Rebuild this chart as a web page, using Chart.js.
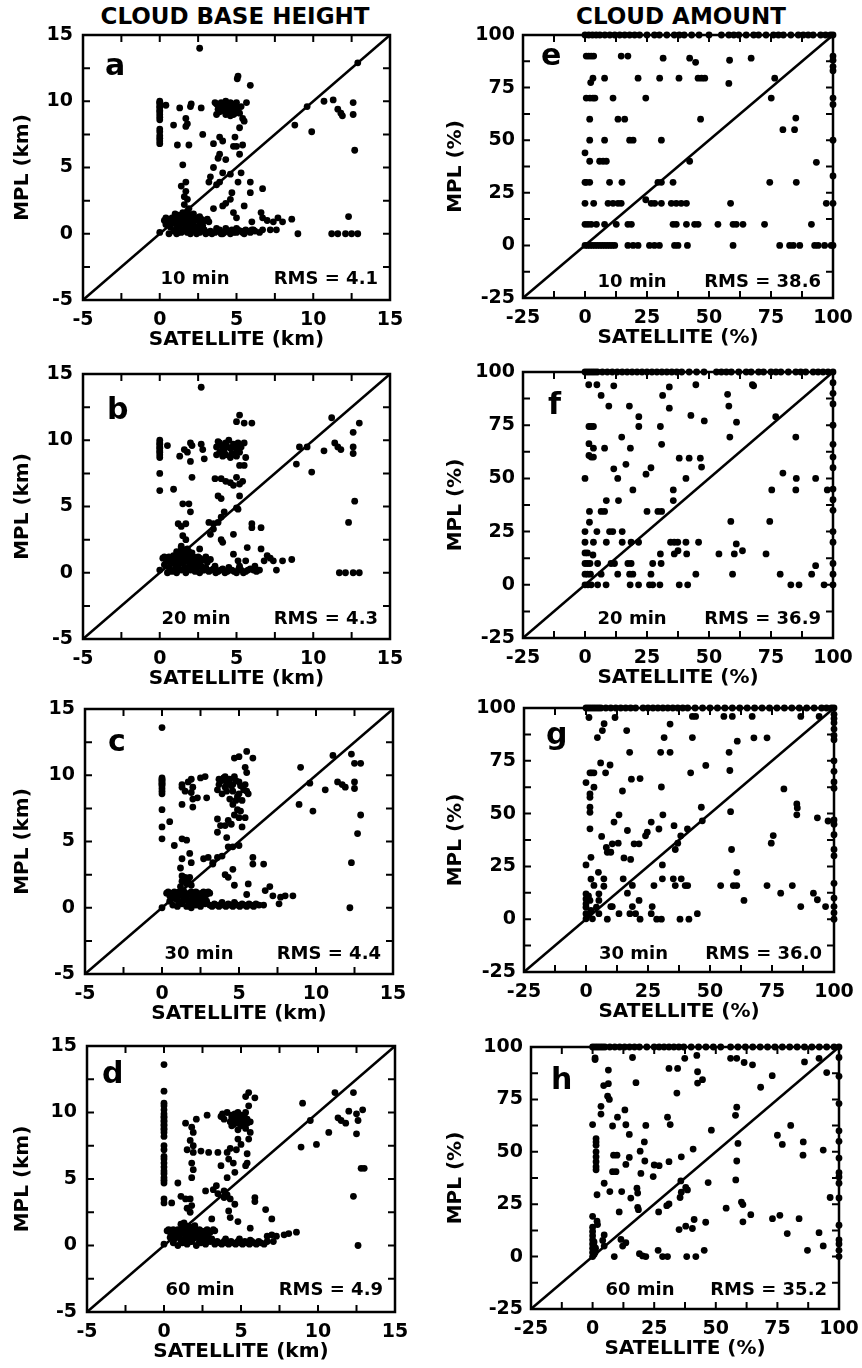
<!DOCTYPE html>
<html>
<head>
<meta charset="utf-8">
<script src="https://cdn.jsdelivr.net/npm/chart.js@4.4.1/dist/chart.umd.min.js"></script>
<style>
  body { margin: 0; background: #fff; width: 862px; height: 1368px; position: relative; overflow: hidden; }
  canvas { position: absolute; }
  .head { position: absolute; top: 5px; font: bold 23px "DejaVu Sans"; color: #000; transform: translateX(-50%); white-space: nowrap; line-height: 23px; }
</style>
</head>
<body>
<div class="head" style="left:235px">CLOUD BASE HEIGHT</div>
<div class="head" style="left:681px">CLOUD AMOUNT</div>
<script>
// axis ticks
const kmTicks = [-5, 0, 5, 10, 15];
const pctTicks = [-25, 0, 25, 50, 75, 100];

// satellite vs MPL cloud base height (km), [sat, mpl]
const ptsA = [
  [0,10.0],[0,9.9],[0,9.8],[0,9.6],[0,9.5],[0,9.3],[0,9.2],[0,9.0],[0,8.8],[0,8.6],[0,7.9],[0,7.7],[0,7.4],[0,7.2],[0,7.0],[0,6.8],
  [0.4,9.7],[1.3,9.5],[2.0,9.6],[2.05,9.8],[2.7,9.5],[0.9,8.2],[1.7,8.7],[1.8,8.3],[1.7,8.1],[1.15,6.7],[1.9,6.7],[2.8,7.5],
  [2.6,14.0],[5.1,11.9],[5.05,11.7],[5.9,11.2],[12.9,12.9],
  [3.6,9.9],[3.8,9.4],[3.9,9.6],[4.1,9.7],[4.3,10.0],[4.6,9.9],[4.8,9.6],[5.0,9.5],[5.2,9.1],[5.4,8.7],[5.5,8.5],[5.65,9.9],
  [3.7,9.0],[4.6,8.9],[4.8,9.0],[3.9,9.2],[5.1,9.2],[4.1,9.3],[4.4,9.5],[4.9,9.8],
  [3.7,9.8],[4.0,9.9],[4.2,9.6],[4.5,9.7],[4.7,9.4],[5.0,9.9],[4.5,9.2],[4.3,9.0],[4.9,9.1],[5.3,9.6],
  [5.2,8.0],[3.9,7.3],[4.9,7.3],[4.8,6.6],[5.0,6.6],[3.5,6.8],[4.1,7.0],[5.4,6.7],[5.2,6.0],[3.9,6.0],[3.8,5.7],[4.3,5.6],
  [1.5,5.2],
  [3.5,5.0],[3.3,4.3],[3.2,3.9],[3.7,3.7],[3.9,3.9],[4.1,4.6],[4.6,4.5],[5.3,4.6],[5.1,3.9],[5.9,3.9],[5.9,3.1],[4.7,3.1],
  [4.6,2.6],[4.3,2.3],[4.1,2.1],[3.5,1.9],[4.8,1.6],[5.0,1.2],[5.5,2.1],[6.7,3.4],
  [1.4,3.6],[1.7,3.9],[1.7,3.2],[1.6,2.8],[1.8,2.6],[1.6,2.2],
  [0.0,0.1],[0.3,1.0],[0.5,1.1],[0.7,0.9],[0.9,1.1],[1.1,1.0],[1.3,1.2],[1.5,1.0],[1.7,1.3],[1.9,1.1],[2.1,1.0],[2.3,1.2],[2.5,1.0],[2.7,1.1],[3.0,1.0],[3.2,0.9],
  [0.4,1.2],[0.6,1.0],[0.8,1.2],[1.0,1.0],[1.2,1.1],[1.4,1.3],[1.6,1.1],[1.8,0.9],[2.0,1.2],[2.2,1.0],[2.4,1.1],[2.6,1.3],[2.8,0.9],[3.1,1.1],
  [1.0,1.5],[1.5,1.6],[1.8,1.7],[2.0,1.4],[1.2,1.4],[1.6,1.4],[2.2,1.5],[1.9,1.9],
  [0.4,0.7],[0.7,0.5],[1.0,0.8],[1.3,0.6],[1.6,0.8],[1.9,0.5],[2.2,0.7],[2.5,0.4],[2.8,0.6],
  [1.1,0.4],[1.4,0.8],[1.7,0.6],[2.0,0.9],[2.3,0.5],[2.6,0.7],[2.9,0.3],
  [0.6,0.0],[0.9,0.2],[1.2,0.1],[1.5,0.3],[1.8,0.1],[2.1,0.2],[2.4,0.0],[2.7,0.2],[3.0,0.0],
  [1.1,0.0],[1.4,0.1],[1.7,0.2],[2.0,0.0],[2.3,0.2],[2.6,0.1],[2.9,0.2],[3.1,0.1],[3.4,0.0],[3.8,0.2],[4.1,0.0],[4.4,0.2],
  [4.7,0.3],[5.0,0.1],[5.3,0.2],[5.6,0.3],[5.9,0.1],[6.2,0.2],[6.5,0.1],
  [3.3,0.2],[3.6,0.1],[3.9,0.3],[4.2,0.1],[4.5,0.2],[4.8,0.1],[5.1,0.3],[5.4,0.1],[5.7,0.2],[6.0,0.3],[3.7,0.4],[4.3,0.4],[5.0,0.4],[4.0,0.0],[4.6,0.0],[5.5,0.0],
  [6.0,0.9],[6.7,1.2],[6.6,1.6],[7.0,1.0],[7.4,0.9],[7.6,0.3],[7.7,1.2],[8.0,0.9],[8.6,1.1],[9.0,0.0],[6.7,0.3],[6.1,0.3],[7.2,0.3],
  [12.3,1.3],[11.2,0],[11.6,0],[12.1,0],[12.5,0],[12.9,0],
  [8.8,8.2],[9.6,9.6],[9.9,7.7],[10.7,10.0],[11.3,10.1],[11.6,9.4],[11.8,9.1],[11.9,8.9],[12.6,9.9],[12.6,9.0],[12.7,6.3]
];

const ptsB = [
  [2.7,14.0],[5.2,11.9],[5.0,11.4],[5.5,11.3],[6.0,11.3],
  [0,10.0],[0,9.8],[0,9.7],[0,9.5],[0,9.4],[0,9.2],[0,9.1],[0,8.9],[0,8.7],[0,7.5],[0,6.2],
  [0.5,9.6],[0.9,6.3],[1.3,8.8],[1.6,9.3],[1.8,9.1],[2.0,9.8],[2.1,9.6],[2.0,8.4],[2.7,9.7],[2.8,9.3],[2.9,8.6],[2.1,7.2],
  [3.7,9.5],[3.9,9.8],[4.1,9.3],[4.3,9.8],[4.6,9.4],[4.8,9.7],[5.0,9.3],[5.2,9.1],[5.5,9.8],[5.6,8.7],
  [3.7,8.9],[4.1,8.8],[4.6,8.7],[4.9,8.9],[5.1,9.8],[3.9,9.1],[4.7,9.0],[4.3,8.9],
  [3.8,9.9],[4.0,9.6],[4.4,9.5],[4.5,10.0],[4.9,9.5],[5.3,9.5],[4.2,9.1],[5.0,8.8],
  [5.2,8.1],[5.5,8.1],[4.0,7.1],[4.3,6.9],[4.6,6.8],[4.8,6.6],[5.0,7.2],[5.2,6.7],[5.4,6.9],[3.6,7.1],[3.8,5.8],[4.0,5.6],[5.2,5.8],[5.1,4.8],[5.0,4.9],
  [1.5,5.2],[1.9,5.2],[2.0,4.6],
  [3.2,3.8],[3.5,3.7],[3.8,3.8],[4.0,4.2],[4.2,4.6],[3.3,2.9],[3.5,3.3],[4.0,2.5],[4.1,2.3],[4.8,2.9],[4.8,1.4],[5.1,0.9],[5.7,1.9],[5.6,0.9],[6.0,3.7],[6.0,3.4],[6.6,3.4],
  [1.2,3.7],[1.4,3.5],[1.7,3.7],[1.5,2.8],[1.7,2.5],[1.4,2.0],[1.8,1.8],[2.6,1.8],
  [0,0.2],[0.2,1.1],[0.4,1.0],[0.6,1.2],[0.8,0.9],[1.0,1.1],[1.2,1.3],[1.4,1.0],[1.6,1.2],[1.8,1.4],[2.0,1.0],[2.2,1.2],[2.4,0.9],[2.6,1.1],[2.9,1.0],[3.1,0.8],
  [0.3,1.2],[0.5,0.9],[0.7,1.1],[0.9,1.3],[1.1,0.9],[1.3,1.1],[1.5,1.3],[1.7,0.9],[1.9,1.1],[2.1,1.3],[2.3,1.0],[2.5,1.2],[2.7,0.9],[3.0,1.2],[3.3,1.0],
  [1.1,1.6],[1.4,1.9],[1.7,1.7],[2.1,1.5],[1.3,1.5],[1.6,1.5],[1.9,1.6],
  [0.3,0.6],[0.6,0.4],[0.9,0.7],[1.2,0.5],[1.5,0.7],[1.8,0.4],[2.1,0.6],[2.4,0.3],[2.7,0.5],[3.0,0.4],
  [1.0,0.3],[1.3,0.8],[1.6,0.3],[1.9,0.8],[2.2,0.4],[2.5,0.7],[2.8,0.2],
  [0.5,0.0],[0.8,0.1],[1.1,0.0],[1.4,0.2],[1.7,0.0],[2.0,0.2],[2.3,0.1],[2.6,0.0],[2.9,0.2],
  [3.2,0.1],[3.5,0.3],[3.8,0.1],[4.1,0.3],[4.4,0.1],[4.7,0.2],[5.0,0.0],[5.3,0.2],[5.6,0.1],[5.9,0.3],[6.1,0.2],[3.6,0.5],[4.5,0.4],[5.2,0.5],
  [3.35,0.2],[3.65,0.0],[3.95,0.2],[4.25,0.0],[4.55,0.2],[4.85,0.1],[5.15,0.3],[5.45,0.0],[5.75,0.2],[6.3,0.1],[6.5,0.2],
  [6.6,1.8],[7.0,1.3],[7.2,1.1],[7.4,0.9],[7.6,0.2],[8.0,0.9],[8.6,1.0],[6.8,0.9],[6.2,0.5],
  [11.7,0],[12.1,0],[12.6,0],[13.0,0],[12.3,3.8],[12.7,5.4],
  [8.9,8.2],[9.1,9.5],[9.6,9.5],[9.9,7.6],[10.7,9.2],[11.2,11.7],[11.4,9.8],[11.6,9.5],[11.8,9.3],[12.6,10.6],[12.6,9.5],[12.6,9.0],[13.0,11.3]
];

const ptsC = [
  [0,13.6],
  [0,9.8],[0,9.7],[0,9.6],[0,9.5],[0,9.4],[0,9.3],[0,9.2],[0,9.0],[0,8.8],[0,8.6],[0,7.4],[0,6.1],[0,5.2],[0.5,6.5],[0.8,4.7],
  [1.3,9.3],[1.3,9.1],[1.5,8.8],[1.7,9.5],[1.9,9.7],[2.0,9.1],[1.9,8.7],[2.0,8.2],[2.0,7.6],[1.3,7.8],[2.3,8.3],[2.5,9.8],[2.8,9.9],[2.9,8.3],
  [3.7,9.7],[3.9,9.6],[4.1,9.9],[4.4,9.7],[4.6,9.3],[4.8,9.6],[5.0,9.5],[5.4,9.3],[3.6,8.9],[3.9,8.6],[4.2,8.8],[4.6,8.8],[5.0,8.6],[5.5,8.8],
  [4.4,8.2],[4.6,7.8],[4.8,8.1],[5.2,8.1],[5.6,8.6],[4.2,9.3],[4.5,9.2],[3.7,9.3],
  [4.0,9.8],[4.3,9.5],[4.7,9.9],[5.1,9.2],[4.9,8.4],[5.3,8.9],[4.1,9.1],
  [4.7,11.3],[5.0,11.4],[5.5,11.8],[5.9,11.3],[5.4,10.6],[5.5,10.2],
  [3.6,6.7],[3.8,6.2],[3.6,5.7],[4.1,6.2],[4.3,6.6],[4.5,6.3],[4.7,7.0],[5.0,6.8],[5.1,7.3],[4.9,7.4],[5.4,6.8],[5.2,6.1],[4.2,5.3],[4.6,4.6],[5.0,4.7],[4.3,4.6],
  [1.3,5.2],[1.6,5.1],[1.8,4.1],[1.9,3.4],[1.3,3.7],[1.2,3.0],[1.3,2.0],[1.5,2.2],
  [2.7,3.7],[3.0,3.8],[3.3,3.4],[3.6,3.8],[3.9,3.9],[3.3,3.3],[4.1,2.5],[4.3,2.3],[4.6,2.9],[4.7,1.7],[5.6,1.8],[5.5,1.0],[5.9,3.8],[5.9,3.3],[6.6,3.3],
  [0,0.0],[0.3,1.1],[0.5,0.9],[0.7,1.1],[0.9,1.0],[1.1,1.2],[1.3,0.9],[1.5,1.1],[1.7,1.0],[1.9,1.2],[2.1,0.9],[2.3,1.1],[2.5,1.0],[2.7,1.2],[2.9,1.0],[3.1,1.1],
  [0.4,1.2],[0.6,1.0],[0.8,1.2],[1.0,0.9],[1.2,1.0],[1.4,1.3],[1.6,0.9],[1.8,1.1],[2.0,1.0],[2.2,1.2],[2.4,0.9],[2.6,1.1],[2.8,1.0],[3.0,1.2],
  [1.2,1.6],[1.4,2.0],[1.5,2.3],[1.7,2.1],[1.9,1.7],[1.3,2.4],[1.6,1.8],[1.8,2.3],
  [0.5,0.5],[0.8,0.7],[1.1,0.4],[1.4,0.6],[1.7,0.5],[2.0,0.7],[2.3,0.4],[2.6,0.6],[2.9,0.5],
  [1.0,0.6],[1.3,0.4],[1.6,0.7],[1.9,0.4],[2.2,0.6],[2.5,0.3],[2.8,0.6],
  [0.7,0.2],[1.0,0.1],[1.3,0.3],[1.6,0.1],[1.9,0.0],[2.2,0.2],[2.5,0.1],[2.8,0.3],
  [3.1,0.2],[3.4,0.3],[3.7,0.1],[4.0,0.2],[4.3,0.3],[4.6,0.1],[4.9,0.2],[5.2,0.3],[5.5,0.1],[5.8,0.2],[6.1,0.3],[3.9,0.4],[4.7,0.4],
  [3.25,0.1],[3.55,0.2],[3.85,0.3],[4.15,0.1],[4.45,0.2],[4.75,0.3],[5.05,0.1],[5.35,0.2],[5.65,0.3],[5.95,0.1],[6.3,0.2],
  [7.0,1.6],[6.7,1.3],[7.2,0.9],[7.7,0.8],[8.0,0.9],[8.5,0.9],[7.6,0.3],[6.6,0.2],
  [12.2,0.0],[12.3,3.4],[12.7,5.6],[12.9,7.0],
  [9.0,10.6],[8.9,7.8],[9.6,9.4],[9.8,7.3],[10.6,8.9],[11.1,11.5],[11.4,9.5],[11.7,9.3],[11.9,9.1],[12.3,11.6],[12.5,10.9],[12.9,10.9],[12.5,9.5],[12.5,9.0]
];

const ptsD = [
  [0,13.6],[0,11.6],[0,10.7],[0,10.5],[0,10.2],[0,9.9],[0,9.7],[0,9.6],[0,9.4],[0,9.3],[0,9.1],[0,9.0],[0,8.8],[0,8.7],[0,8.5],[0,8.2],
  [0,7.5],[0,7.2],[0,6.7],[0,6.5],[0,6.2],[0,5.9],[0,5.6],[0,5.4],[0,5.1],[0,4.9],[0,4.7],[0,3.5],[0,3.2],
  [0.5,3.2],[0.9,4.7],[1.8,5.1],[1.4,9.2],[2.1,9.5],[2.8,9.8],[1.8,8.9],[1.9,8.5],[1.7,7.9],[1.9,7.5],[1.5,7.2],[1.9,7.0],[2.4,7.1],[2.9,7.0],[3.5,7.0],[1.9,5.7],[1.8,6.2],
  [3.8,9.9],[4.1,10.0],[4.4,9.8],[4.6,9.5],[4.8,10.0],[5.0,9.8],[5.4,9.5],[5.6,9.3],[3.9,9.5],[4.3,9.3],[4.5,9.1],[4.9,9.2],[5.2,9.1],[3.7,9.7],[4.7,9.2],[5.1,9.5],[5.3,10.0],
  [4.4,9.6],[4.6,9.9],[4.9,9.6],[5.2,9.8],[4.7,9.4],[5.0,9.0],[5.4,9.2],[4.8,8.7],[5.3,8.8],[4.4,9.0],
  [5.3,11.2],[5.5,10.5],[5.5,11.5],[5.9,11.1],[5.6,8.5],[5.5,8.0],[4.8,8.0],[5.0,7.6],[4.7,7.2],[4.3,7.3],[4.1,7.0],[4.2,6.5],[4.5,6.2],[5.4,6.9],[5.4,6.2],[5.3,6.0],[3.7,6.0],[4.6,5.5],[4.1,5.1],
  [1.1,3.7],[1.4,3.5],[1.5,2.8],[1.7,2.5],[1.7,3.5],[1.8,3.0],[2.7,4.1],[3.2,4.2],[3.4,4.5],[3.5,3.9],[3.9,4.1],[3.9,3.6],[4.1,3.8],[4.3,3.5],[4.6,3.1],
  [3.1,2.0],[4.2,2.6],[4.3,2.1],[4.8,1.8],[5.6,1.3],[5.9,3.6],[5.9,3.3],[6.6,2.7],[7.0,2.0],
  [0,0.1],[0.2,1.1],[0.4,1.0],[0.6,1.2],[0.8,1.0],[1.0,1.1],[1.2,1.3],[1.4,1.0],[1.6,1.2],[1.8,1.0],[2.0,1.1],[2.2,0.9],[2.4,1.1],[2.6,1.0],[2.8,1.2],[3.0,1.0],[3.3,1.1],
  [0.3,1.2],[0.5,0.9],[0.7,1.1],[0.9,1.2],[1.1,0.9],[1.3,1.1],[1.5,1.2],[1.7,0.9],[1.9,1.2],[2.1,1.0],[2.3,1.2],[2.5,0.9],[2.7,1.1],[2.9,0.9],[3.2,1.2],
  [1.1,1.6],[1.4,1.5],[1.7,1.4],[1.3,1.7],[2.0,1.5],
  [0.4,0.6],[0.7,0.5],[1.0,0.7],[1.3,0.4],[1.6,0.6],[1.9,0.5],[2.2,0.7],[2.5,0.4],[2.8,0.6],[3.1,0.5],
  [1.1,0.4],[1.4,0.7],[1.7,0.3],[2.0,0.6],[2.3,0.3],[2.6,0.7],[2.9,0.4],
  [0.6,0.2],[0.9,0.0],[1.2,0.2],[1.5,0.1],[1.8,0.3],[2.1,0.0],[2.4,0.2],[2.7,0.1],[3.0,0.3],
  [3.3,0.1],[3.6,0.2],[3.9,0.3],[4.2,0.1],[4.5,0.2],[4.8,0.3],[5.1,0.1],[5.4,0.2],[5.7,0.3],[6.0,0.1],[6.3,0.2],[4.0,0.5],[4.9,0.5],[5.6,0.4],
  [3.45,0.3],[3.75,0.1],[4.05,0.2],[4.35,0.3],[4.65,0.1],[4.95,0.2],[5.25,0.3],[5.55,0.1],[5.85,0.2],[6.15,0.3],[6.5,0.1],
  [6.7,0.7],[7.0,0.8],[7.3,0.7],[7.8,0.8],[8.1,0.9],[8.6,1.0],[7.1,0.3],[6.7,0.3],
  [12.6,0.0],[12.3,3.7],[12.8,5.8],[13.0,5.8],
  [9.0,10.7],[8.9,7.4],[9.5,9.4],[9.9,7.6],[10.7,8.5],[11.1,11.5],[11.3,9.6],[11.5,9.4],[11.8,9.2],[12.0,10.1],[12.3,11.5],[12.5,9.9],[12.6,9.4],[12.9,10.2],[12.5,8.4]
];

// satellite vs MPL cloud amount (%), [sat, mpl]
const ptsE = [
  [0,100],[1.5,100],[3,100],[4.5,100],[6,100],[8,100],[10,100],[12,100],[14,100],[16,100],[18,100],[20,100],[22,100],[25,100],[28,100],[30,100],
  [33,100],[36,100],[38,100],[40,100],[43,100],[46,100],[50,100],[55,100],[58,100],[60,100],[62,100],[65,100],[68,100],[70,100],[73,100],[76,100],
  [78,100],[80,100],[83,100],[86,100],[88,100],[90,100],[92,100],[95,100],[97,100],[99,100],[100,100],
  [0.5,90],[1.5,90],[2.5,90],[3.5,90],[14.6,90],[17.3,90],[31.5,89],[42.2,89],[44.6,87],[58.3,88],[67,89],
  [2.3,77.4],[3.2,79.5],[7.9,79.5],[21.4,79.5],[30.1,79.5],[37.9,79.5],[45.6,79.5],[47,79.5],[48.3,79.5],[58,77],[76.5,79.5],
  [0.5,70],[2,70],[3.2,70],[4,70],[11.3,70],[24.5,70],[75.1,70],
  [1.9,60],[13.3,60],[16,60],[46.6,60],[85,60.5],[79.8,55],[84.5,55],
  [1.9,50],[7.9,50],[18,50],[19.4,50],[30.8,50],[0,44],
  [1.9,40],[5.9,40],[7.3,40],[8.6,40],[42.2,40],[93.3,39.5],
  [0,30],[0.5,30],[1.9,30],[9.9,30],[14.9,30],[29.4,30],[30.8,30],[35.5,30],[74.5,30],[85.2,30],[24.5,21.7],
  [0,20],[3.5,20],[9.3,20],[11.3,20],[13.3,20],[14.6,20],[26.7,20],[28.1,20],[30.8,20],[34.8,20],[36.8,20],[38.8,20],[40.9,20],[58.7,20],[97.3,20],
  [0,10],[1.2,10],[2.5,10],[4.6,10],[7.9,10],[12.6,10],[17.3,10],[18.7,10],[35.5,10],[36.8,10],[40.9,10],[44.2,10],[45.6,10],[53.6,10],[59.7,10],[61,10],[63.7,10],[72.4,10],[91.3,10],
  [0,0],[1,0],[2,0],[3,0],[4,0],[5,0],[6,0],[7,0],[8,0],[9,0],[10,0],[11,0],[12,0],[17.3,0],[19.4,0],[21.4,0],[26,0],[28,0],[30,0],
  [36.1,0],[37.5,0],[41.3,0],[59.7,0],[78.5,0],[82.5,0],[84,0],[86.6,0],[92.6,0],[94,0],[96.6,0],[99.3,0],
  [100,90],[100,88],[100,85],[100,83],[100,70],[100,67],[100,50],[100,33],[100,20],[100,0]
];

const ptsF = [
  [0,100],[1,100],[2,100],[3,100],[4,100],[5,100],[7,100],[9,100],[11,100],[13,100],[15,100],[17,100],[19,100],[21,100],[23,100],[25,100],
  [27,100],[29,100],[31,100],[33,100],[35,100],[37,100],[39,100],[42,100],[45,100],[48,100],[53,100],[55,100],[57,100],[59,100],[62,100],
  [65,100],[67,100],[70,100],[72,100],[75,100],[77,100],[79,100],[82,100],[85,100],[87,100],[89,100],[92,100],[94,100],[96,100],[98,100],[100,100],
  [1.5,94],[4.8,94],[11.6,93.5],[6.5,89],[9.6,84],[17.9,84],[31.3,89],[34,93],[34,83],[44.7,94],[42.7,79.6],[48.1,77],[57.5,89.5],[58,84],
  [61.1,76.4],[67.5,94],[68,93.5],[58.4,69.4],[76.9,79],[85,69.4],
  [1.6,74.4],[2.5,74.4],[3.4,74.4],[21.7,74.4],[30.4,74.4],[21.7,79],[18.3,64.2],[14.8,69.4],[7.9,64.2],[1.6,66.3],[3.4,64.2],[1.6,60.8],[2.5,60],[3.4,60],[30.9,66],
  [11.6,54.5],[16.5,56.6],[24.6,52],[26.6,55],[13.2,50],[19.3,44.6],[0,50],[38,59.5],[42,59.5],[46.5,59.5],[47,55.3],[40.7,50],[35.6,44.6],[35.6,39.6],[13.5,39.6],[8.6,39.6],
  [1.8,34.5],[6.5,34.5],[7.9,34.5],[25,34.5],[29.4,34.5],[30.9,34.5],[1.8,29.4],
  [0,25],[4.8,25],[9.9,25],[11.2,25],[15,25],
  [0,20],[3.4,20],[8.6,20],[15,20],[18.6,20],[21.6,20],[34.5,20],[36,20],[37.4,20],[40.7,20],[45.8,20],
  [37.5,16],[36,14.5],[41,14.5],[30.4,14.5],[54,14.5],[60.2,14.5],[63.5,16],[73,14.5],[61,19.2],
  [0,15],[1,15],[3.2,14],
  [0,10],[1,10],[2,10],[5.1,10],[10.5,10],[11.9,10],[17.3,10],[18.6,10],[27.3,10],[30.7,10],
  [0,5],[1,5],[2.2,5],[6.5,5],[13.2,5],[18,5],[19.3,5],[26.6,5],[44.7,5],[59.5,5],[78.7,5],[91.4,5],[93,9],
  [0,0],[1.2,0],[2.5,0],[5.1,0],[8.5,0],[18.2,0],[21.6,0],[26,0],[27.3,0],[30.2,0],[38,0],[41.4,0],[83,0],[86.3,0],[96.4,0],
  [74.5,29.8],[75.3,44.6],[79.8,52.5],[85.2,50],[85,44.6],[93,50],[58.8,29.8],[97.7,44.6],
  [100,0],[100,5],[100,10],[100,20],[100,25],[100,35],[100,40],[100,45],[100,55],[100,60],[100,66],[100,75],[100,85],[100,90],[100,95]
];

const ptsG = [
  [0,100],[1,100],[2,100],[3,100],[4,100],[5,100],[6,100],[8,100],[10,100],[12,100],[14,100],[16,100],[18,100],[20,100],[23,100],[25,100],
  [27,100],[29,100],[31,100],[33,100],[35,100],[37,100],[39,100],[41,100],[44,100],[47,100],[50,100],[53,100],[56,100],[59,100],[62,100],
  [65,100],[68,100],[71,100],[74,100],[77,100],[80,100],[83,100],[86,100],[89,100],[92,100],[95,100],[97,100],[99,100],[100,100],
  [1.2,95.5],[11.7,95.5],[7.3,92.6],[6.6,89.3],[4.6,86],[16.4,89.3],[17.6,79],[33.9,92.4],[31.5,86],[30.1,79],[33.9,79],[42.9,96],[44.2,96],
  [42.9,86],[42.2,69.3],[48.3,72.8],[55.6,96],[59,96],[67,96],[61,84.3],[67.7,85.9],[73,85.9],[57.7,79],[58,70.4],[86.6,96],[94,96],
  [5.9,74],[9.7,73],[1.6,69.3],[2.3,69.3],[3.2,69.3],[7.9,69.3],[3.2,62.5],[1.6,59.3],[1.6,57.7],[0,64.7],[18.3,66.3],[21.8,66.6],[30.4,62.6],[14.7,60.7],
  [1.6,53],[1.6,50.6],[1.6,42.8],[11.3,46],[13.3,49.4],[31,49.4],[26.3,46],[24.7,41.2],[24,39.5],[29.4,42.7],[35.5,44.3],[40.9,42.7],[38.2,39.5],
  [37,36],[36,33],[46.5,53],[46.9,46.6],[58.3,50.9],[58.7,33],[75.5,39.6],[74.7,36],[79.8,61.7],[85,54.6],[85.2,52.7],[85,49.4],[93.3,48],
  [6.3,39.2],[8.2,34],[8.6,31.7],[10,31.7],[10.6,35.7],[13,36],[15.3,29],[18,28.3],[16.7,42],[19.4,35.7],[21.4,35.7],[0,25.7],[2,29.3],[2,19],
  [5,22.2],[7.2,19.1],[30.8,25.7],[30.8,19.1],[15,19.1],[35.2,19.1],[38.4,19.1],
  [3.2,16],[7.2,15.6],[16.7,12.3],[18.7,16],[27.4,15.9],[36,15.9],[40,15.9],[41,15.9],[54.3,15.9],[59.4,15.9],[60.8,15.9],[60.8,22.2],[63.7,8.9],
  [73,15.9],[78.5,12.3],[83.2,15.9],[86.6,6],[91.7,12.3],[93.3,9.2],[96.6,6],
  [0,12],[0,9.6],[0,7.3],[0,5.7],[0,2.6],[0,0.2],[1.6,8.9],[2,4.2],[2.6,0.2],[5.2,12],[5.2,8.9],[5.2,2.6],[4.2,5.7],[1,2],[1,11],
  [10.6,6],[13.3,2.6],[10,6],[18.7,6],[17.7,2.6],[20,2.6],[21.4,8.9],[21.8,0],[8.6,0],[26.3,2.6],[26.7,6],[28.5,0],[30.4,0],[37.9,0],[41.5,0],[44.9,2.6],
  [100,0],[100,3],[100,6],[100,10],[100,17],[100,30],[100,33],[100,40],[100,45],[100,47],[100,62],[100,65],[100,70],[100,75],[100,85],
  [100,87],[100,90],[100,93],[100,95],[100,97],[97.6,46.5]
];

const ptsH = [
  [0,100],[1,100],[2,100],[3,100],[4,100],[5,100],[7,100],[9,100],[11,100],[13,100],[15,100],[17,100],[19,100],[22,100],[25,100],[27,100],
  [29,100],[31,100],[33,100],[35,100],[37,100],[40,100],[43,100],[46,100],[49,100],[52,100],[56,100],[59,100],[62,100],[65,100],[68,100],
  [71,100],[74,100],[77,100],[80,100],[83,100],[86,100],[89,100],[92,100],[95,100],[98,100],[100,100],
  [1,94.8],[1,94],[6.4,89],[4.5,81.6],[6.4,82.5],[6.1,76.5],[6.8,75],[3.4,71.7],[3.4,68],[0,63],[8.1,62.3],[10.1,66.5],[13.1,70],[13.5,62.9],
  [14.9,58.3],[17.6,83],[16.2,95],[21.6,62.6],[21,54.7],[31,89.8],[34.5,89.8],[34.2,78],[37.4,94.6],[42.3,96],[42.6,88.2],[42.6,82.8],
  [44.6,84.4],[30.4,66.5],[31.5,63],[48.2,60.3],[40.8,51.3],
  [1.4,56.3],[1.4,54.7],[1.4,53.1],[1.4,50],[1.4,47.6],[1.4,45.3],[1.4,42.9],[1.4,41.4],[0,19.2],[1.8,29.5],[1.8,16.9],[2,15.3],
  [4.7,35],[7,31],[8.1,40.5],[8.5,48.4],[9.9,48.4],[9.5,40.5],[10.8,21.3],[11.8,31],[13.5,44],[14.9,47.3],[15.5,27.9],[18,32.6],[18.3,30.3],
  [18.3,23.5],[18.6,22.4],[19.3,50.3],[19.6,39.7],[21.2,45.6],[25,43.7],[27,43.4],[24.6,38.2],[26.8,21.3],[30.1,24.3],[31,25.1],[31,45.3],
  [36,47.6],[35.8,36.1],[35.5,28.2],[36,30.7],[37.8,33],[38.5,31.8],[37.8,14.5],[35.1,12.9],[40.5,13.4],[41.2,17.7],[45.9,16.4],[46.9,35.3],
  [54.2,23.1],[60.4,26],[61,24.8],[61,16.6],[64.2,20],[58.1,36.6],[58.5,45.6],[59,54],[58,67.4],[58.5,71.3],[56,94.6],[58.5,94.6],[61.5,92.6],
  [64.9,91.5],[68.2,80.8],[72.9,86.3],[75,57.9],[77,53.5],[80.4,62.6],[85.5,54.7],[85.4,48.4],[73,18.1],[76,19.7],[79,11],[83.8,18.1],[87.2,3],
  [86,92.9],[91.9,94.6],[95,87.8],[93.6,50.8],[91.9,11.4],[93.6,5.1],[96.4,28.2],
  [8.8,0],[12.2,5],[13.5,6.6],[11.5,8.2],[19,1.4],[20.3,0.3],[21.6,0],[26.6,3],[28.4,0],[30.4,0],[38.2,0],[41.9,0],[45.3,3],[4.7,10.3],[4.7,5],[4.1,7.7],
  [0,0],[0,2],[0,4],[0,6],[0,8],[0,10],[0,12],[0,14],[0.6,1],[0.6,3],[0.6,5],[0.6,7],[1,2],[1.2,4],
  [100,0],[100,3],[100,6],[100,8],[100,15],[100,28],[100,35],[100,38],[100,40],[100,47],[100,55],[100,60],[100,73],[100,86],[100,95]
];

Chart.defaults.font.family = '"DejaVu Sans", sans-serif';
Chart.defaults.color = '#000';

const axes = {
  km:  { ticks: kmTicks,  xTitle: 'SATELLITE (km)', yTitle: 'MPL (km)' },
  pct: { ticks: pctTicks, xTitle: 'SATELLITE (%)',  yTitle: 'MPL (%)' }
};

// plot-area box [left, right, top, bottom] in page pixels, plus label offsets
const panels = [
  { letter: 'a', kind: 'km',  pts: ptsA, col: 0, box: [83, 390, 35, 300],    lx: 22, ly: 40, time: '10 min', rms: 'RMS = 4.1',  tb: 16, tx: 0.365 },
  { letter: 'b', kind: 'km',  pts: ptsB, col: 0, box: [83, 390, 374, 639],   lx: 24, ly: 45, time: '20 min', rms: 'RMS = 4.3',  tb: 15, tx: 0.368 },
  { letter: 'c', kind: 'km',  pts: ptsC, col: 0, box: [85, 393, 709, 974],   lx: 23, ly: 42, time: '30 min', rms: 'RMS = 4.4',  tb: 15, tx: 0.37 },
  { letter: 'd', kind: 'km',  pts: ptsD, col: 0, box: [87, 395, 1046, 1312], lx: 15, ly: 37, time: '60 min', rms: 'RMS = 4.9',  tb: 17, tx: 0.367 },
  { letter: 'e', kind: 'pct', pts: ptsE, col: 1, box: [523, 833, 35, 298],   lx: 18, ly: 30, time: '10 min', rms: 'RMS = 38.6', tb: 11, tx: 0.352 },
  { letter: 'f', kind: 'pct', pts: ptsF, col: 1, box: [523, 833, 372, 638],  lx: 25, ly: 42, time: '20 min', rms: 'RMS = 36.9', tb: 14, tx: 0.352 },
  { letter: 'g', kind: 'pct', pts: ptsG, col: 1, box: [524, 834, 708, 972],  lx: 22, ly: 36, time: '30 min', rms: 'RMS = 36.0', tb: 13, tx: 0.353 },
  { letter: 'h', kind: 'pct', pts: ptsH, col: 1, box: [531, 839, 1047, 1309], lx: 20, ly: 42, time: '60 min', rms: 'RMS = 35.2', tb: 14, tx: 0.354 }
];

function withMinor(vals) {
  const out = [];
  vals.forEach((v, i) => {
    out.push(v);
    if (i < vals.length - 1) out.push((v + vals[i + 1]) / 2);
  });
  return out;
}

// box frame, inward ticks on all four sides, panel letter and captions
function decor(p) {
  return {
    id: 'decor' + p.letter,
    afterDatasetsDraw(chart) {
      const { ctx, chartArea: a, scales: { x, y } } = chart;
      const tl = 7;
      ctx.save();
      ctx.strokeStyle = '#000';
      ctx.lineWidth = 2;
      ctx.beginPath();
      withMinor(x.ticks.map(t => t.value)).forEach(v => {
        const px = x.getPixelForValue(v);
        ctx.moveTo(px, a.bottom); ctx.lineTo(px, a.bottom - tl);
        ctx.moveTo(px, a.top); ctx.lineTo(px, a.top + tl);
      });
      withMinor(y.ticks.map(t => t.value)).forEach(v => {
        const py = y.getPixelForValue(v);
        ctx.moveTo(a.left, py); ctx.lineTo(a.left + tl, py);
        ctx.moveTo(a.right, py); ctx.lineTo(a.right - tl, py);
      });
      ctx.stroke();
      ctx.lineWidth = 2.5;
      ctx.strokeRect(a.left, a.top, a.right - a.left, a.bottom - a.top);

      ctx.fillStyle = '#000';
      ctx.textBaseline = 'alphabetic';
      ctx.font = 'bold 30px "DejaVu Sans"';
      ctx.textAlign = 'left';
      ctx.fillText(p.letter, a.left + p.lx, a.top + p.ly);
      ctx.font = 'bold 18px "DejaVu Sans"';
      ctx.textAlign = 'center';
      ctx.fillText(p.time, a.left + p.tx * (a.right - a.left), a.bottom - p.tb);
      ctx.textAlign = 'right';
      ctx.fillText(p.rms, a.right - 12, a.bottom - p.tb);
      ctx.restore();
    }
  };
}

function makePanel(p) {
  const ax = axes[p.kind];
  const [L, R, T, B] = p.box;
  const colLeft = p.col ? 431 : 0;
  const padTop = 14, axisH = 52;
  const lo = ax.ticks[0], hi = ax.ticks[ax.ticks.length - 1];

  const cv = document.createElement('canvas');
  cv.width = 431;
  cv.height = B - T + padTop + axisH;
  cv.style.left = colLeft + 'px';
  cv.style.top = (T - padTop) + 'px';
  document.body.appendChild(cv);

  const fixTicks = s => { s.ticks = ax.ticks.map(v => ({ value: v })); };
  const noPad = s => { s.paddingTop = s.paddingBottom = s.paddingLeft = s.paddingRight = 0; };

  new Chart(cv, {
    type: 'scatter',
    data: {
      datasets: [
        {
          type: 'line',
          data: [{ x: lo, y: lo }, { x: hi, y: hi }],
          borderColor: '#000',
          borderWidth: 2.5,
          pointRadius: 0
        },
        {
          data: p.pts.map(([sx, my]) => ({ x: sx, y: my })),
          backgroundColor: '#000',
          borderWidth: 0,
          pointRadius: 3.4,
          clip: false
        }
      ]
    },
    options: {
      responsive: false,
      animation: false,
      events: [],
      layout: { padding: { top: padTop, right: colLeft + 431 - R, left: 0, bottom: 0 } },
      plugins: { legend: { display: false }, tooltip: { enabled: false } },
      scales: {
        x: {
          type: 'linear',
          min: lo, max: hi,
          afterBuildTicks: fixTicks,
          afterFit: s => { s.height = axisH; noPad(s); },
          grid: { display: false, drawTicks: false },
          border: { display: false },
          ticks: { font: { size: 19, weight: 'bold' }, padding: 9, maxRotation: 0, autoSkip: false },
          title: { display: true, text: ax.xTitle, font: { size: 20, weight: 'bold' }, padding: { top: 0, bottom: 0 } }
        },
        y: {
          type: 'linear',
          min: lo, max: hi,
          afterBuildTicks: fixTicks,
          afterFit: s => { s.width = L - colLeft; noPad(s); },
          grid: { display: false, drawTicks: false },
          border: { display: false },
          ticks: { font: { size: 19, weight: 'bold' }, padding: p.col ? 8 : 10, autoSkip: false },
          title: { display: true, text: ax.yTitle, font: { size: 20, weight: 'bold' }, padding: { top: p.col ? 13 : 11, bottom: 0 } }
        }
      }
    },
    plugins: [decor(p)]
  });
}

panels.forEach(makePanel);
</script>
</body>
</html>
